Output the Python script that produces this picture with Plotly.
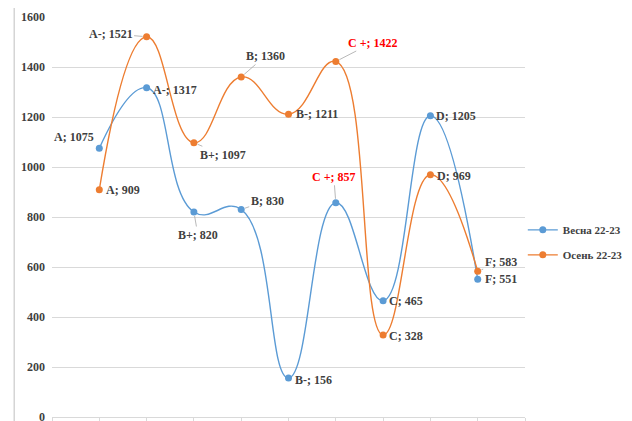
import plotly.graph_objects as go

categories = ["A", "A-", "B+", "B", "B-", "C +", "C", "D", "F"]
spring = [1075, 1317, 820, 830, 156, 857, 465, 1205, 551]
autumn = [909, 1521, 1097, 1360, 1211, 1422, 328, 969, 583]
series_names = ["Весна 22-23", "Осень 22-23"]
y_ticks = [0, 200, 400, 600, 800, 1000, 1200, 1400, 1600]

x_pos = list(range(1, len(categories) + 1))

BLUE = "#5B9BD5"
ORANGE = "#ED7D31"
TXT = "#404040"
RED = "#FF0000"
FONT = "Liberation Serif"

# label offsets (pixels) and leader-line flags, per series
spring_off = [(-25, -11, False), (28, 2, False), (4, 23, True), (26, -9, True), (25, 2, False),
              (-2, -26, True), (23, 0, False), (26, 0, False), (23, 0, False)]
autumn_off = [(24, 0, False), (-36, -3, True), (29, 12, True), (24, -21, True), (28, 0, False),
              (37, -19, True), (23, 1, False), (24, 1, False), (23, -9, True)]

fig = go.Figure()
for i, (name, vals, col) in enumerate([(series_names[0], spring, BLUE),
                                       (series_names[1], autumn, ORANGE)]):
    fig.add_trace(go.Scatter(
        x=x_pos, y=vals, name=name, mode="lines+markers", legendgroup=f"g{i}",
        line=dict(color=col, width=1.4, shape="spline", smoothing=1.3),
        marker=dict(color=col, size=7),
    ))

annotations = []
for vals, offs in [(spring, spring_off), (autumn, autumn_off)]:
    for xi, cat, v, (dx, dy, lead) in zip(x_pos, categories, vals, offs):
        red = cat.startswith("C +")
        annotations.append(dict(
            x=xi, y=v, xref="x", yref="y",
            text=f"{cat}; {v}",
            showarrow=True, ax=dx, ay=dy, axref="pixel", ayref="pixel",
            arrowhead=0, arrowwidth=0.8, standoff=4,
            arrowcolor="#A6A6A6" if lead else "rgba(0,0,0,0)",
            font=dict(family=FONT, size=12, color=RED if red else TXT,
                      weight="bold"),
        ))

fig.update_layout(
    width=624, height=413,
    margin=dict(l=44, r=107, t=9, b=4, autoexpand=False),
    paper_bgcolor="white", plot_bgcolor="white",
    showlegend=True,
    legend=dict(xref="container", yref="container", x=0.825, y=0.498,
                xanchor="left", yanchor="top", traceorder="grouped",
                font=dict(family=FONT, size=11, color=TXT, weight="bold"),
                bgcolor="rgba(0,0,0,0)", itemwidth=30, tracegroupgap=6),
    annotations=annotations,
    xaxis=dict(range=[0, 10], dtick=1, tick0=0, showticklabels=False,
               showgrid=False, zeroline=False, ticks="outside", ticklen=4,
               tickcolor="#D9D9D9", showline=True, linecolor="#D9D9D9"),
    yaxis=dict(range=[0, 1600], tickvals=y_ticks, showgrid=True,
               gridcolor="#D9D9D9", gridwidth=1, zeroline=False,
               tickfont=dict(family=FONT, size=12, color=TXT, weight="bold"),
               ticks="", ticklabelstandoff=6, showline=False,
               ticklabeloverflow="allow"),
    shapes=[dict(type="line", xref="paper", yref="paper",
                 x0=-0.080, x1=-0.080, y0=-0.03, y1=1.025,
                 line=dict(color="#BFBFBF", width=1))],
)

fig.write_html("out.html")
